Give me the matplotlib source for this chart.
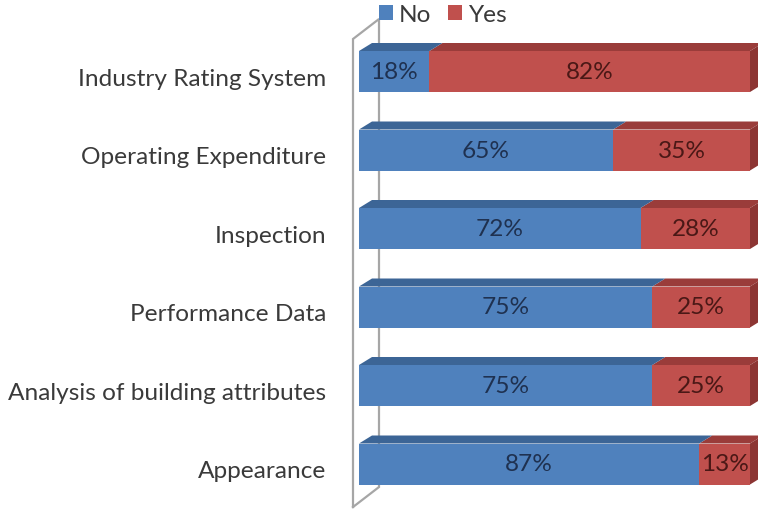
import matplotlib
matplotlib.use("Agg")
import matplotlib.pyplot as plt
from matplotlib.patches import Polygon, Patch

categories = ["Industry Rating System", "Operating Expenditure", "Inspection",
              "Performance Data", "Analysis of building attributes", "Appearance"]
no_vals = [18, 65, 72, 75, 75, 87]
yes_vals = [82, 35, 28, 25, 25, 13]
series_names = ["No", "Yes"]

# colours: front, top, side
blue = ("#4f81bd", "#3c6596", "#35598a")
red = ("#c0504d", "#9a3c3a", "#8c3533")
label_cols = ("#1f3150", "#4a1816")
fs = 17.6

plt.rcParams['font.family'] = ['Lato', 'DejaVu Sans']

fig = plt.figure(figsize=(7.58, 5.10), dpi=100)
# x: 0..100 -> px 359..750, y: category centres 72.5 + 78.5*i px
ax = fig.add_axes([359 / 758, 1 - 504.25 / 510, 391 / 758, 471 / 510])
ax.set_xlim(0, 100)
ax.set_ylim(5.5, -0.5)
ax.axis("off")

px_x = 100 / 391.0
px_y = 1 / 78.5
half = 20.5 * px_y
dx, dy = 13 * px_x, 8 * px_y
wdx, wdy = 26 * px_x, 20 * px_y

# back wall
front_x = -6 * px_x
wall_top = -0.414
wall_bot = 5.548
ax.plot([front_x, front_x, front_x + wdx, front_x + wdx, front_x],
        [wall_bot, wall_top, wall_top - wdy, wall_bot - wdy, wall_bot],
        color="#a6a6a6", lw=1.6, clip_on=False, zorder=1, solid_joinstyle="miter")


def box(x0, w, y, cols, side, z):
    y0, y1 = y - half, y + half
    front = Polygon([(x0, y0), (x0 + w, y0), (x0 + w, y1), (x0, y1)],
                    closed=True, fc=cols[0], ec="none", zorder=z, clip_on=False)
    top = Polygon([(x0, y0), (x0 + dx, y0 - dy), (x0 + w + dx, y0 - dy), (x0 + w, y0)],
                  closed=True, fc=cols[1], ec="none", zorder=z, clip_on=False)
    ax.add_patch(front)
    ax.add_patch(top)
    if side:
        sd = Polygon([(x0 + w, y0), (x0 + w + dx, y0 - dy), (x0 + w + dx, y1 - dy), (x0 + w, y1)],
                     closed=True, fc=cols[2], ec="none", zorder=z, clip_on=False)
        ax.add_patch(sd)


for i, cat in enumerate(categories):
    n, y_ = no_vals[i], yes_vals[i]
    box(0, n, i, blue, False, 3)
    box(n, y_, i, red, True, 2)
    ax.text(n / 2, i, f"{n}%", ha="center", va="center", fontsize=fs,
            color=label_cols[0], zorder=5)
    ax.text(n + y_ / 2, i, f"{y_}%", ha="center", va="center", fontsize=fs,
            color=label_cols[1], zorder=5)
    ax.annotate(cat, xy=(0, i), xytext=(-33, -7), textcoords="offset pixels",
                ha="right", va="center", fontsize=fs, color="#3a3a3a")

handles = [Patch(fc=blue[0], ec="none"), Patch(fc=red[0], ec="none")]
fig.legend(handles, series_names, loc="center", bbox_to_anchor=(443 / 758, 1 - 16 / 510),
           ncol=2, frameon=False, fontsize=fs, handlelength=0.55, handleheight=0.55,
           handletextpad=0.25, columnspacing=0.7, labelcolor="#3a3a3a")

fig.savefig("out.png", dpi=100)
